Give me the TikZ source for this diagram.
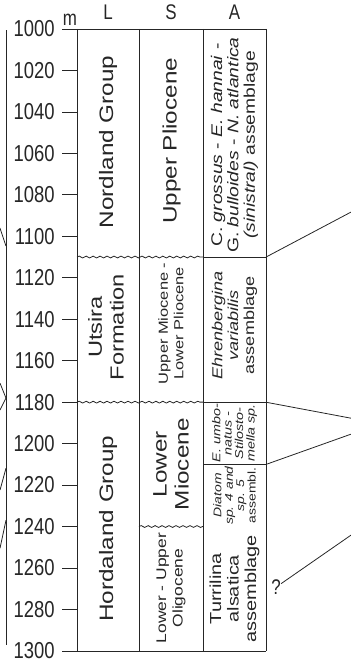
\documentclass[tikz,border=0pt]{standalone}
\usepackage{fontspec}
\setmainfont{Liberation Sans}
\usetikzlibrary{positioning}
\usetikzlibrary{decorations.pathmorphing}
\tikzset{unit node/.style={rotate=90,align=center,inner sep=0pt,font=\fontsize{19.5}{22}\selectfont}}
\tikzset{depth node/.style={anchor=east,inner sep=0pt,font=\fontsize{18.5}{20}\selectfont}}
\tikzset{head node/.style={inner sep=0pt,font=\fontsize{17}{18}\selectfont}}
\tikzset{wavy/.style={decorate,decoration={snake,amplitude=0.9pt,segment length=7pt}}}

\begin{document}
\begin{tikzpicture}[x=1bp,y=1.6584bp,yscale=1.25,transform shape,line width=0.8bp,color=black!85]
    \useasboundingbox (0,13.99) rectangle (351,-305.84);

    % column heads
    \node[head node] (m) at (70,4.6) {m};
    \node[head node] (L) at (108,8.2) {L};
    \node[head node] (S) at (171,8.2) {S};
    \node[head node] (A) at (234.5,8.2) {A};

    % depth scale
    \node[depth node] (d_{1000}) at (55,0) {1000};
    \node[depth node] (d_{1020}) at (55,-20) {1020};
    \node[depth node] (d_{1040}) at (55,-40) {1040};
    \node[depth node] (d_{1060}) at (55,-60) {1060};
    \node[depth node] (d_{1080}) at (55,-80) {1080};
    \node[depth node] (d_{1100}) at (55,-100) {1100};
    \node[depth node] (d_{1120}) at (55,-120) {1120};
    \node[depth node] (d_{1140}) at (55,-140) {1140};
    \node[depth node] (d_{1160}) at (55,-160) {1160};
    \node[depth node] (d_{1180}) at (55,-180) {1180};
    \node[depth node] (d_{1200}) at (55,-200) {1200};
    \node[depth node] (d_{1220}) at (55,-220) {1220};
    \node[depth node] (d_{1240}) at (55,-240) {1240};
    \node[depth node] (d_{1260}) at (55,-260) {1260};
    \node[depth node] (d_{1280}) at (55,-280) {1280};
    \node[depth node] (d_{1300}) at (55,-300) {1300};

    \draw (62,-20) -- (77,-20);
    \draw (62,-40) -- (77,-40);
    \draw (62,-60) -- (77,-60);
    \draw (62,-80) -- (77,-80);
    \draw (62,-100) -- (77,-100);
    \draw (62,-120) -- (77,-120);
    \draw (62,-140) -- (77,-140);
    \draw (62,-160) -- (77,-160);
    \draw (62,-180) -- (77,-180);
    \draw (62,-200) -- (77,-200);
    \draw (62,-220) -- (77,-220);
    \draw (62,-240) -- (77,-240);
    \draw (62,-260) -- (77,-260);
    \draw (62,-280) -- (77,-280);

    % frame
    \draw (62,0) -- (266,0);
    \draw (62,-300) -- (266,-300);
    \draw (77,0) -- (77,-300);
    \draw (139,0) -- (139,-300);
    \draw (203,0) -- (203,-300);
    \draw (266,0) -- (266,-300);

    % boundaries
    \draw[wavy] (77,-110) -- (203,-110);
    \draw[wavy] (77,-180) -- (203,-180);
    \draw[wavy] (139,-240) -- (203,-240);
    \draw (203,-110) -- (266,-110);
    \draw (203,-180) -- (266,-180);
    \draw (203,-210) -- (266,-210);

    % lithostratigraphy
    \node[unit node] (L_{1}) at (108,-54.5) {Nordland Group};
    \node[unit node,font=\fontsize{19}{22}\selectfont] (L_{2}) at (106,-143.8) {Utsira\\Formation};
    \node[unit node] (L_{3}) at (108,-241) {Hordaland Group};

    % chronostratigraphy
    \node[unit node] (S_{1}) at (171.5,-54) {Upper Pliocene};
    \node[unit node,font=\fontsize{13.2}{15.5}\selectfont] (S_{2}) at (171,-142) {Upper Miocene -\\Lower Pliocene};
    \node[unit node] (S_{3}) at (171,-210) {Lower\\Miocene};
    \node[unit node,font=\fontsize{14}{16.5}\selectfont] (S_{4}) at (171,-269.7) {Lower - Upper\\Oligocene};

    % assemblages
    \node[unit node,font=\fontsize{15.5}{16.5}\selectfont] (A_{1}) at (234.5,-56) {C. \textit{grossus} - \textit{E. hannai} -\\G. \textit{bulloides} - \textit{N. atlantica}\\\textit{(sinistral)} assemblage};
    \node[unit node,font=\fontsize{14.5}{16}\selectfont] (A_{2}) at (234.5,-143) {\textit{Ehrenbergina}\\\textit{variabilis}\\assemblage};
    \node[unit node,font=\fontsize{11.5}{11.5}\selectfont] (A_{3}) at (234.5,-195) {\textit{E. umbo-}\\\textit{natus -}\\\textit{Stilosto-}\\\textit{mella sp.}};
    \node[unit node,font=\fontsize{11.2}{11.5}\selectfont] (A_{4}) at (234.5,-225) {\textit{Diatom}\\\textit{sp. 4 and}\\\textit{sp. 5}\\assembl.};
    \node[unit node,font=\fontsize{16}{17.5}\selectfont] (A_{5}) at (234.5,-270) {Turrilina\\alsatica\\assemblage};
    \node[head node] (q) at (276,-269.2) {?};

    % links to the neighbouring columns
    \coordinate (a_{1}) at (266,-110);
    \coordinate (a_{2}) at (266,-180);
    \coordinate (a_{3}) at (266,-210);
    \coordinate (b_{1}) at (351,-88.3);
    \coordinate (b_{2}) at (351,-187.7);
    \coordinate (b_{3}) at (351,-195.4);
    \coordinate (b_{4}) at (351,-244.1);
    \draw (a_{1}) -- (b_{1});
    \draw (a_{2}) -- (b_{2});
    \draw (a_{3}) -- (b_{3});
    \draw (q) -- (b_{4});

    \coordinate (t_{0}) at (6,-0.5);
    \coordinate (t_{5}) at (6,-297.2);
    \coordinate (c_{1}) at (0,-96);
    \coordinate (e_{1}) at (6,-104.7);
    \coordinate (c_{2}) at (0,-170.8);
    \coordinate (e_{2}) at (6,-178);
    \coordinate (c_{3}) at (0,-183.8);
    \coordinate (c_{4}) at (0,-222.4);
    \coordinate (e_{4}) at (6,-211.8);
    \coordinate (c_{5}) at (0,-250.4);
    \coordinate (e_{5}) at (6,-236.9);
    \draw (t_{0}) -- (t_{5});
    \draw (c_{1}) -- (e_{1});
    \draw (c_{2}) -- (e_{2}) -- (c_{3});
    \draw (c_{4}) -- (e_{4});
    \draw (c_{5}) -- (e_{5});

\end{tikzpicture}
\end{document}
